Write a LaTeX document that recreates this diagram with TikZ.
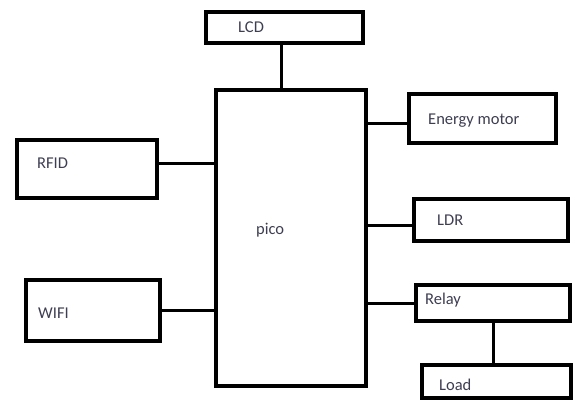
\documentclass[tikz,border=0pt]{standalone}
\usepackage{fontspec}
\setmainfont{Carlito}
\usetikzlibrary{calc}
\definecolor{lbltext}{RGB}{62,62,82}

\begin{document}
\begin{tikzpicture}[
    x=1pt, y=-1pt,
    blk/.style={draw, line width=3.6pt, inner sep=0pt},
    lbl/.style={anchor=west, inner sep=0pt, text=lbltext, font=\fontsize{16.5}{20}\selectfont},
    wire/.style={line width=3pt},
]
\useasboundingbox (0,0) rectangle (574,402);

% === Connectors (drawn first, boxes on top) ===
\coordinate (lcdtap) at (281,43);
\coordinate (rfidtap) at (157,163);
\coordinate (engtap) at (409,123);
\coordinate (ldrtap) at (414,225);

% === Blocks ===
\node[blk, minimum width=157, minimum height=31] (lcd) at (284.5,27.5) {};
\node[blk, minimum width=150, minimum height=296] (pico) at (291,238) {};
\node[blk, minimum width=140, minimum height=58] (rfid) at (87,169) {};
\node[blk, minimum width=134, minimum height=61] (wifi) at (93,310.5) {};
\node[blk, minimum width=147, minimum height=49] (energy) at (482.5,118.5) {};
\node[blk, minimum width=154, minimum height=42] (ldr) at (491,220) {};
\node[blk, minimum width=154, minimum height=36] (relay) at (493,303) {};
\node[blk, minimum width=149, minimum height=33] (load) at (496.5,381.5) {};

% === Wires ===
\draw[wire] (lcdtap) -- (lcdtap |- pico.north);
\draw[wire] (rfidtap) -- (rfidtap -| pico.west);
\draw[wire] (wifi.east) -- (wifi.east -| pico.west);
\draw[wire] (engtap -| pico.east) -- (engtap);
\draw[wire] (ldrtap -| pico.east) -- (ldrtap);
\draw[wire] (relay.west -| pico.east) -- (relay.west);
\draw[wire] (relay.south) -- (relay.south |- load.north);

% === Labels ===
\node[lbl] (lcdtxt) at (238,27) {LCD};
\node[lbl] (picotxt) at (256,230) {pico};
\node[lbl] (rfidtxt) at (37,163) {RFID};
\node[lbl] (wifitxt) at (38,313) {WIFI};
\node[lbl] (energytxt) at (428,121) {Energy motor};
\node[lbl] (ldrtxt) at (437,220) {LDR};
\node[lbl] (relaytxt) at (425,300) {Relay};
\node[lbl] (loadtxt) at (439,385) {Load};

\end{tikzpicture}
\end{document}
